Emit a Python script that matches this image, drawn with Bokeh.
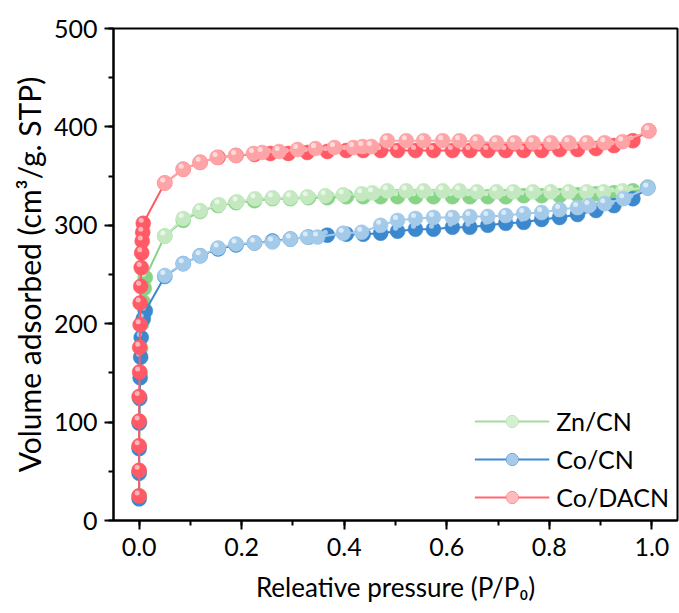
from bokeh.plotting import figure
from bokeh.models import Range1d, Legend, LegendItem, SingleIntervalTicker, PrintfTickFormatter
from bokeh.embed import file_html
from bokeh.resources import INLINE

# ---------------- data ----------------
zn_ads_x = [0.000, 0.000, 0.000, 0.001, 0.001, 0.002, 0.003, 0.005, 0.008, 0.010, 0.012,
            0.050, 0.086, 0.119, 0.154, 0.189, 0.225, 0.260, 0.295, 0.330, 0.367,
            0.404, 0.437, 0.471, 0.504, 0.539, 0.574, 0.611, 0.645, 0.680, 0.715,
            0.750, 0.785, 0.820, 0.855, 0.891, 0.926, 0.963, 0.992]
zn_ads_y = [25, 50, 75, 100, 125, 150, 175, 200, 222, 236, 247,
            289, 305, 314, 320, 323, 325, 327, 327, 328, 328,
            329, 329, 329, 329, 329, 329, 329, 329, 329, 329,
            330, 330, 330, 331, 332, 333, 335, 339]
zn_des_x = [0.992, 0.943, 0.906, 0.873, 0.838, 0.803, 0.768, 0.730, 0.697, 0.659,
            0.625, 0.592, 0.555, 0.521, 0.484, 0.455, 0.434, 0.398, 0.363, 0.328,
            0.295, 0.260, 0.226, 0.191, 0.156, 0.119, 0.086, 0.050]
zn_des_y = [339, 335, 334, 334, 334, 334, 334, 334, 334, 334,
            335, 335, 335, 335, 335, 333, 332, 331, 330, 329,
            328, 328, 327, 324, 321, 315, 307, 289]

co_ads_x = [0.000, 0.000, 0.000, 0.000, 0.001, 0.002, 0.003, 0.004, 0.008, 0.012,
            0.050, 0.086, 0.119, 0.154, 0.189, 0.225, 0.260, 0.295, 0.330, 0.367,
            0.404, 0.437, 0.471, 0.504, 0.539, 0.574, 0.611, 0.645, 0.680, 0.715,
            0.750, 0.785, 0.820, 0.855, 0.891, 0.926, 0.963, 0.992]
co_ads_y = [22, 48, 73, 99, 124, 145, 166, 186, 205, 213,
            248, 261, 269, 276, 280, 282, 284, 286, 288, 290,
            291, 291, 292, 294, 296, 296, 298, 298, 300, 302,
            303, 306, 308, 311, 315, 320, 327, 338]
co_des_x = [0.992, 0.945, 0.908, 0.877, 0.855, 0.820, 0.785, 0.750, 0.715, 0.680,
            0.645, 0.611, 0.574, 0.539, 0.504, 0.471, 0.434, 0.398, 0.348, 0.328,
            0.295, 0.260, 0.225, 0.189, 0.154, 0.119, 0.086, 0.050]
co_des_y = [338, 327, 322, 320, 318, 316, 313, 312, 310, 309,
            309, 308, 308, 307, 305, 300, 293, 292, 288, 288,
            286, 283, 282, 281, 277, 269, 261, 249]

da_ads_x = [0.000, 0.000, 0.000, 0.000, 0.000, 0.001, 0.001, 0.002, 0.002, 0.003,
            0.004, 0.005, 0.006, 0.007, 0.008,
            0.050, 0.086, 0.119, 0.154, 0.189, 0.225, 0.256, 0.291, 0.328, 0.367,
            0.404, 0.437, 0.471, 0.504, 0.539, 0.574, 0.611, 0.645, 0.680, 0.715,
            0.750, 0.785, 0.820, 0.855, 0.891, 0.926, 0.963, 0.994]
da_ads_y = [25, 51, 76, 101, 126, 151, 176, 199, 221, 238,
            257, 272, 284, 293, 302,
            343, 357, 364, 369, 371, 372, 373, 373, 374, 375,
            376, 376, 376, 376, 376, 376, 376, 376, 376, 376,
            376, 376, 377, 377, 378, 381, 386, 396]
da_des_x = [0.994, 0.943, 0.908, 0.873, 0.838, 0.803, 0.768, 0.732, 0.697, 0.659,
            0.625, 0.592, 0.555, 0.521, 0.484, 0.453, 0.436, 0.418, 0.381, 0.344,
            0.309, 0.273, 0.240, 0.223, 0.188, 0.152, 0.119, 0.086, 0.050]
da_des_y = [396, 385, 384, 384, 384, 384, 384, 384, 384, 385,
            386, 386, 386, 386, 386, 380, 380, 379, 379, 378,
            377, 375, 374, 373, 371, 369, 364, 357, 343]

series_names = ["Zn/CN", "Co/CN", "Co/DACN"]
x_ticks_label = "Releative pressure (P/P\u2080)"
y_ticks_label = "Volume adsorbed (cm\u00b3/g. STP)"

# ---------------- styling ----------------
FONT = "Lato"
W, H = 679, 613
BL, BR, BT, BB = 113, 2, 28, 93
X0, X1, Y0, Y1 = -0.05, 1.05, 0, 500

p = figure(width=W, height=H, output_backend="svg", toolbar_location=None,
           x_range=Range1d(X0, X1), y_range=Range1d(Y0, Y1),
           min_border_left=BL, min_border_right=BR, min_border_top=BT, min_border_bottom=BB,
           background_fill_color="white", border_fill_color="white")
p.grid.visible = False
p.outline_line_color = "black"
p.outline_line_width = 2
p.outline_line_alpha = 1

p.xaxis.ticker = SingleIntervalTicker(interval=0.2, num_minor_ticks=2)
p.yaxis.ticker = SingleIntervalTicker(interval=100, num_minor_ticks=2)
p.xaxis.formatter = PrintfTickFormatter(format="%.1f")
for ax in (p.xaxis, p.yaxis):
    ax.axis_line_width = 2
    ax.major_tick_line_width = 2
    ax.minor_tick_line_width = 2
    ax.major_tick_out = 9
    ax.major_tick_in = 0
    ax.minor_tick_out = 5
    ax.minor_tick_in = 0
    ax.major_label_text_font = FONT
    ax.major_label_text_font_size = "25px"
    ax.major_label_text_color = "black"
    ax.axis_label_text_font = FONT
    ax.axis_label_text_font_style = "normal"
    ax.axis_label_text_color = "black"
p.xaxis.axis_label_text_font_size = "26px"
p.yaxis.axis_label_text_font_size = "30px"
p.xaxis.axis_label = x_ticks_label
p.yaxis.axis_label = y_ticks_label
p.xaxis.major_label_standoff = 8
p.yaxis.major_label_standoff = 7
p.xaxis.axis_label_standoff = 12
p.yaxis.axis_label_standoff = 4

# highlight offset (a few screen pixels up-left) in data units
fw = W - BL - BR
fh = H - BT - BB
hdx = -2.0 * (X1 - X0) / fw
hdy = 3.0 * (Y1 - Y0) / fh

MS = 15
specs = [
    (zn_ads_x, zn_ads_y, zn_des_x, zn_des_y, "#88D486", "#C4E9C0", "#A3DC9E"),
    (co_ads_x, co_ads_y, co_des_x, co_des_y, "#3B88CE", "#A4CAEA", "#3F8BD0"),
    (da_ads_x, da_ads_y, da_des_x, da_des_y, "#FF5A66", "#FFA4A6", "#FF6670"),
]

items = []
for name, (ax_, ay_, dx_, dy_, c_ads, c_des, c_leg) in zip(series_names, specs):
    p.line(ax_, ay_, line_color=c_ads, line_width=2)
    p.scatter(ax_, ay_, size=MS, marker="circle", fill_color=c_ads, line_color=c_ads, line_width=0.5)
    p.scatter([v + hdx for v in ax_], [v + hdy for v in ay_], size=5, marker="circle",
              fill_color="white", fill_alpha=0.55, line_color=None)
    p.line(dx_, dy_, line_color=c_des, line_width=2)
    p.scatter(dx_, dy_, size=MS, marker="circle", fill_color=c_des, line_color=c_des, line_width=0.5)
    p.scatter([v + hdx for v in dx_], [v + hdy for v in dy_], size=5, marker="circle",
              fill_color="white", fill_alpha=0.6, line_color=None)
    # legend proxies (not visible in plot)
    ll = p.line([0.5], [250], line_color=c_leg, line_width=2, visible=False)
    ls = p.scatter([0.5], [250], size=14, marker="circle", fill_color=c_leg, line_color=c_leg, visible=False)
    lh = p.scatter([0.5], [250], size=5, marker="circle", fill_color="white", fill_alpha=0.55,
                   line_color=None, visible=False)
    items.append(LegendItem(label=name, renderers=[ll, ls, lh]))

legend = Legend(items=items, location="bottom_right",
                label_text_font=FONT, label_text_font_size="25px", label_text_color="black",
                glyph_width=75, glyph_height=30, spacing=8, label_standoff=7,
                padding=0, margin=8, background_fill_alpha=0, border_line_alpha=0)
p.add_layout(legend)

open("out.html", "w").write(file_html(p, INLINE))
